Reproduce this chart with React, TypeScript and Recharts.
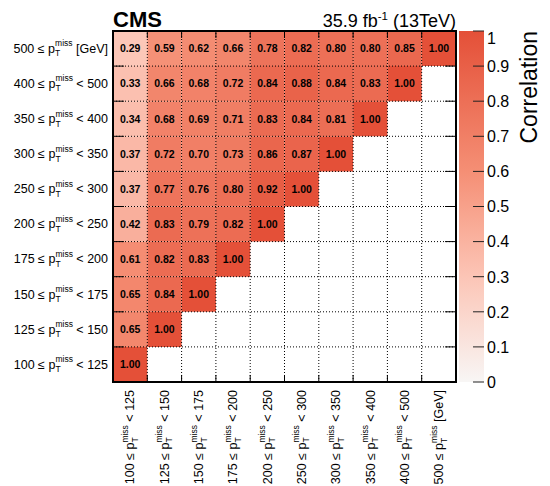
import React from 'react';
import { ScatterChart, ComposedChart, Scatter, XAxis, YAxis, ReferenceArea, ReferenceLine } from 'recharts';

// lower bin edges of the p_T^miss bins (GeV)
const binEdges = ['100', '125', '150', '175', '200', '250', '300', '350', '400', '500'];

// correlation of each row bin with the column bins 0..row
const corr100 = [1.0];
const corr125 = [0.65, 1.0];
const corr150 = [0.65, 0.84, 1.0];
const corr175 = [0.61, 0.82, 0.83, 1.0];
const corr200 = [0.42, 0.83, 0.79, 0.82, 1.0];
const corr250 = [0.37, 0.77, 0.76, 0.8, 0.92, 1.0];
const corr300 = [0.37, 0.72, 0.7, 0.73, 0.86, 0.87, 1.0];
const corr350 = [0.34, 0.68, 0.69, 0.71, 0.83, 0.84, 0.81, 1.0];
const corr400 = [0.33, 0.66, 0.68, 0.72, 0.84, 0.88, 0.84, 0.83, 1.0];
const corr500 = [0.29, 0.59, 0.62, 0.66, 0.78, 0.82, 0.8, 0.8, 0.85, 1.0];
const corrRows = [corr100, corr125, corr150, corr175, corr200, corr250, corr300, corr350, corr400, corr500];

const colorTicks = [0, 0.1, 0.2, 0.3, 0.4, 0.5, 0.6, 0.7, 0.8, 0.9, 1];
const colorRange = [{ x: 0, y: 0 }, { x: 1, y: 1 }];
const lumiText = '35.9 fb';
const energyText = ' (13TeV)';

// palette
const paletteStops = [0, 0.3, 0.6, 1];
const paletteColors = [
  [248, 246, 245],
  [252, 197, 182],
  [245, 143, 117],
  [228, 80, 56],
];

const FONT = '"Liberation Sans", Arial, Helvetica, sans-serif';

function colorFor(v: number): string {
  let k = 0;
  while (k < paletteStops.length - 2 && v > paletteStops[k + 1]) k++;
  const t = (v - paletteStops[k]) / (paletteStops[k + 1] - paletteStops[k]);
  const a = paletteColors[k];
  const b = paletteColors[k + 1];
  const c = a.map((av, idx) => Math.round(av + (b[idx] - av) * Math.max(0, Math.min(1, t))));
  return `rgb(${c[0]},${c[1]},${c[2]})`;
}

const cells = corrRows.flatMap((row, j) => row.map((v, i) => ({ x: i + 0.5, y: j + 0.5, i, j, v })));
const centers = binEdges.map((_, i) => i + 0.5);
const bounds = binEdges.slice(1).map((_, i) => i + 1);

const PtParts = ({ i }: { i: number }) => (
  <>
    <tspan>{`${binEdges[i]} ≤ p`}</tspan>
    <tspan fontSize={8.5} dy={3.5}>T</tspan>
    <tspan fontSize={8.5} dx={-5.2} dy={-10}>miss</tspan>
    <tspan dy={6.5}>{i < binEdges.length - 1 ? ` < ${binEdges[i + 1]}` : ' [GeV]'}</tspan>
  </>
);

const YTick = (props: any) => {
  const { x, y, payload } = props;
  const i = Math.floor(payload.value);
  return (
    <text x={x} y={y} dy={4.3} textAnchor="end" fontSize={12.5} fill="#000" fontFamily={FONT}>
      <PtParts i={i} />
    </text>
  );
};

const XTick = (props: any) => {
  const { x, y, payload } = props;
  const i = Math.floor(payload.value);
  return (
    <text x={x} y={y} dy={4.3} textAnchor="end" fontSize={12.5} fill="#000" fontFamily={FONT} transform={`rotate(-90, ${x}, ${y})`}>
      <PtParts i={i} />
    </text>
  );
};

const CbTick = (props: any) => {
  const { x, y, payload } = props;
  const v = payload.value;
  return (
    <text x={x + 3} y={y} dy={v === 1 ? 13 : 5.8} textAnchor="start" fontSize={16} fill="#000" fontFamily={FONT}>
      {String(v)}
    </text>
  );
};

const CellText = (props: any) => {
  const { cx, cy, payload } = props;
  return (
    <text x={cx} y={cy} dy={3.8} textAnchor="middle" fontSize={10.5} fontWeight="bold" fill="#000" fontFamily={FONT}>
      {payload.v.toFixed(2)}
    </text>
  );
};

const NoShape = () => <g />;

export default function App() {
  return (
    <div style={{ position: 'absolute', left: 0, top: 0, width: 550, height: 486, background: '#fff', fontFamily: FONT }}>
      <svg width={0} height={0} style={{ position: 'absolute' }}>
        <defs>
          <linearGradient id="cbGrad" x1="0" y1="1" x2="0" y2="0">
            {paletteStops.map((s, k) => (
              <stop key={k} offset={s} stopColor={colorFor(s)} />
            ))}
          </linearGradient>
        </defs>
      </svg>
      <div style={{ position: 'absolute', left: 0, top: 0 }}>
        <ScatterChart width={550} height={486} margin={{ top: 31, right: 94, bottom: 8, left: 8 }}>
          <XAxis
            type="number"
            dataKey="x"
            domain={[0, 10]}
            ticks={centers}
            interval={0}
            allowDataOverflow
            tickLine={false}
            axisLine={false}
            tickSize={0}
            tickMargin={8}
            height={96}
            tick={<XTick />}
          />
          <YAxis
            type="number"
            dataKey="y"
            domain={[0, 10]}
            ticks={centers}
            interval={0}
            allowDataOverflow
            tickLine={false}
            axisLine={false}
            tickSize={0}
            tickMargin={5}
            width={105}
            tick={<YTick />}
          />
          {cells.map((c) => (
            <ReferenceArea
              key={`c-${c.i}-${c.j}`}
              x1={c.i}
              x2={c.i + 1}
              y1={c.j}
              y2={c.j + 1}
              fill={colorFor(c.v)}
              fillOpacity={1}
              stroke="none"
            />
          ))}
          {bounds.map((b) => (
            <ReferenceLine key={`gx-${b}`} x={b} stroke="#000" strokeWidth={1} strokeDasharray="1 2" />
          ))}
          {bounds.map((b) => (
            <ReferenceLine key={`gy-${b}`} y={b} stroke="#000" strokeWidth={1} strokeDasharray="1 2" />
          ))}
          {bounds.map((b) => (
            <ReferenceLine key={`tl-${b}`} segment={[{ x: 0, y: b }, { x: 0.32, y: b }]} stroke="#000" strokeWidth={1} />
          ))}
          {bounds.map((b) => (
            <ReferenceLine key={`tr-${b}`} segment={[{ x: 9.68, y: b }, { x: 10, y: b }]} stroke="#000" strokeWidth={1} />
          ))}
          {bounds.map((b) => (
            <ReferenceLine key={`tb-${b}`} segment={[{ x: b, y: 0 }, { x: b, y: 0.2 }]} stroke="#000" strokeWidth={1} />
          ))}
          {bounds.map((b) => (
            <ReferenceLine key={`tt-${b}`} segment={[{ x: b, y: 9.8 }, { x: b, y: 10 }]} stroke="#000" strokeWidth={1} />
          ))}
          <ReferenceArea x1={0} x2={10} y1={0} y2={10} fill="none" stroke="#000" strokeWidth={2} />
          <Scatter data={cells} isAnimationActive={false} shape={<CellText />} />
        </ScatterChart>
      </div>
      <div style={{ position: 'absolute', left: 0, top: 0 }}>
        <ScatterChart
          width={550}
          height={486}
          margin={{ top: 31, right: 6, bottom: 104, left: 459 }}
        >
          <XAxis type="number" dataKey="x" domain={[0, 1]} hide />
          <YAxis
            type="number"
            dataKey="y"
            orientation="right"
            domain={[0, 1]}
            ticks={colorTicks}
            interval={0}
            tickLine={false}
            axisLine={false}
            tickSize={0}
            tickMargin={0}
            width={60}
            tick={<CbTick />}
          />
          <ReferenceArea x1={0} x2={1} y1={0} y2={1} fill="url(#cbGrad)" fillOpacity={1} stroke="none" />
          {colorTicks.map((t) => (
            <ReferenceLine key={`cb-${t}`} segment={[{ x: 0.56, y: t }, { x: 1, y: t }]} stroke="#222" strokeWidth={1} />
          ))}
          <Scatter data={colorRange} isAnimationActive={false} shape={<NoShape />} />
        </ScatterChart>
      </div>
      <svg width={550} height={486} style={{ position: 'absolute', left: 0, top: 0, pointerEvents: 'none' }}>
        <text x={113} y={27} fontSize={22} fontWeight="bold" fill="#000" fontFamily={FONT}>CMS</text>
        <text x={456} y={27} textAnchor="end" fontSize={18} fill="#000" fontFamily={FONT}>
          <tspan>{lumiText}</tspan>
          <tspan fontSize={11.5} dy={-7}>-1</tspan>
          <tspan dy={7}>{energyText}</tspan>
        </text>
        <text x={537} y={31} textAnchor="end" fontSize={23} fill="#000" fontFamily={FONT} transform="rotate(-90, 537, 31)">
          Correlation
        </text>
      </svg>
    </div>
  );
}
